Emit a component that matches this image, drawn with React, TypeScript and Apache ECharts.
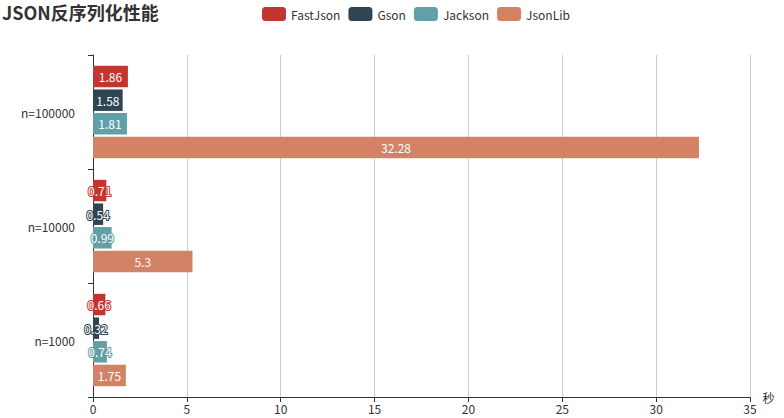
import React, { useEffect, useRef } from "react";
import * as echarts from "echarts";

const categories = ["n=1000", "n=10000", "n=100000"];
const seriesNames = ["FastJson", "Gson", "Jackson", "JsonLib"];
const fastJson = [0.66, 0.71, 1.86];
const gson = [0.32, 0.54, 1.58];
const jackson = [0.74, 0.99, 1.81];
const jsonLib = [1.75, 5.3, 32.28];
const colors = ["#c23531", "#2f4554", "#61a0a8", "#d48265"];

export default function App() {
  const ref = useRef<HTMLDivElement>(null);
  useEffect(() => {
    const chart = echarts.init(ref.current!, null, { renderer: "svg" });
    const font = "'Noto Sans CJK SC', 'Noto Sans', sans-serif";
    const data = [fastJson, gson, jackson, jsonLib];
    chart.setOption({
      animation: false,
      color: colors,
      textStyle: { fontFamily: font },
      title: {
        text: "JSON反序列化性能",
        left: 0,
        top: 0,
        padding: [3, 5, 5, 2],
        textStyle: { fontSize: 18, fontWeight: "bold", color: "#333", fontFamily: font },
      },
      legend: {
        data: seriesNames,
        top: 2,
        left: 257,
        itemWidth: 24,
        itemHeight: 14,
        itemGap: 8,
        icon: "roundRect",
        textStyle: { color: "#333", fontSize: 12, fontFamily: font },
      },
      grid: { left: 93, right: 34, top: 55, bottom: 21, containLabel: false },
      xAxis: {
        type: "value",
        min: 0,
        max: 35,
        interval: 5,
        name: "秒",
        nameGap: 12,
        nameTextStyle: { color: "#333", fontSize: 12, padding: [0, 0, 4, 0] },
        axisLine: { show: true, lineStyle: { color: "#333" } },
        axisTick: { show: true },
        axisLabel: { color: "#333", fontSize: 12, margin: 5 },
        splitLine: { show: true, lineStyle: { color: "#ccc" } },
      },
      yAxis: {
        type: "category",
        data: categories,
        axisLine: { show: true, lineStyle: { color: "#333" } },
        axisTick: { show: true },
        axisLabel: { color: "#333", fontSize: 12, margin: 18 },
      },
      series: seriesNames.map((name, i) => ({
        name,
        type: "bar",
        data: data[i],
        label: {
          show: true,
          position: "inside",
          fontSize: 12,
          color: "#fff",
          textBorderColor: colors[i],
          textBorderWidth: 2,
        },
      })),
    });
    return () => chart.dispose();
  }, []);
  return <div ref={ref} style={{ width: 784, height: 418, position: "absolute", left: 0, top: 0 }} />;
}
